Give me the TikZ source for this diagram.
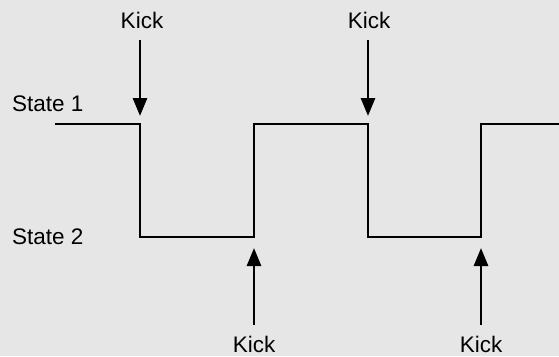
\documentclass[tikz,border=0pt]{standalone}
\usepackage{fontspec}
\setmainfont{Liberation Sans}
\usetikzlibrary{arrows.meta}
\definecolor{bgcol}{HTML}{E6E6E6}
\tikzset{
  wave/.style={line width=2pt, line join=miter},
  kick/.style={line width=2.8pt, -{Triangle[width=14pt,length=18pt]}},
  lbl/.style={inner sep=0pt, font=\fontsize{22.5}{27}\selectfont},
}
\begin{document}
\begin{tikzpicture}[x=1pt,y=-1pt]
\fill[bgcol] (0,0) rectangle (559,356);
\useasboundingbox (0,0) rectangle (559,356);
% waveform corners
\coordinate (w0) at (55,124);
\coordinate (c1) at (140,124);
\coordinate (c2) at (140,237);
\coordinate (c3) at (254,237);
\coordinate (c4) at (254,124);
\coordinate (c5) at (368,124);
\coordinate (c6) at (368,237);
\coordinate (c7) at (481,237);
\coordinate (c8) at (481,124);
\coordinate (w9) at (560,124);
\draw[wave] (w0) -- (c1) -- (c2) -- (c3) -- (c4) -- (c5) -- (c6) -- (c7) -- (c8) -- (w9);
% state labels
\node[lbl, anchor=west] (s1) at (12,104) {State 1};
\node[lbl, anchor=west] (s2) at (12,237) {State 2};
% kick labels
\node[lbl] (k1) at (142,20) {Kick};
\node[lbl] (k2) at (369,20) {Kick};
\node[lbl] (k3) at (254,344) {Kick};
\node[lbl] (k4) at (481,344) {Kick};
% kick arrows
\draw[kick, shorten <=12pt, shorten >=8pt] (k1.south -| c1) -- (c1);
\draw[kick, shorten <=12pt, shorten >=8pt] (k2.south -| c5) -- (c5);
\draw[kick, shorten <=11pt, shorten >=11pt] (k3.north -| c3) -- (c3);
\draw[kick, shorten <=11pt, shorten >=11pt] (k4.north -| c7) -- (c7);
\end{tikzpicture}
\end{document}
